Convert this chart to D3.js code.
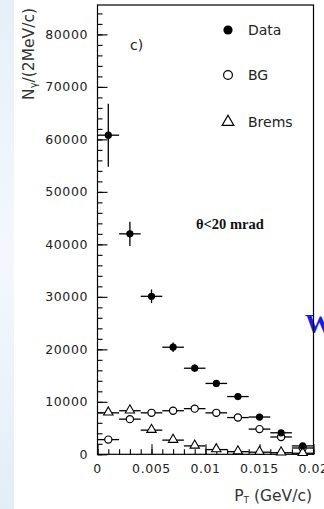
<!DOCTYPE html>
<html>
<head>
<meta charset="utf-8">
<script src="https://cdn.jsdelivr.net/npm/d3@7"></script>
<style>
  html, body { margin: 0; padding: 0; background: #ffffff; }
  svg { display: block; }
</style>
</head>
<body>
<svg id="chart" width="324" height="509"></svg>
<script>
// ---- data ----
const ptBins = [0.001, 0.003, 0.005, 0.007, 0.009, 0.011, 0.013, 0.015, 0.017, 0.019];
const dataValues = [60800, 42000, 30100, 20400, 16400, 13500, 11000, 7100, 4100, 1600];
const dataErrors = [6000, 2300, 1300, 900, 700, 500, 400, 400, 400, 300];
const bgValues = [2800, 6700, 7900, 8300, 8700, 7900, 7000, 4800, 3300, 1200];
const bremsValues = [7900, 8300, 4600, 2700, 1600, 900, 500, 400, 300, 200];
const halfBinWidth = 0.001;
const yTickValues = [0, 10000, 20000, 30000, 40000, 50000, 60000, 70000, 80000];
const xTickValues = [0, 0.005, 0.01, 0.015, 0.02];
const xTickLabels = ["0", "0.005", "0.01", "0.015", "0.02"];
const legendLabels = ["Data", "BG", "Brems"];

(function () {
// ---- layout ----
const svg = d3.select("#chart");
const pLeft = 97.5, pRight = 313.5, pTop = 5, pBottom = 454.3;

const x = d3.scaleLinear().domain([0, 0.02]).range([pLeft, pRight]);
const y = d3.scaleLinear().domain([0, 85600]).range([pBottom, pTop]);

// slide background strip at left
const defs = svg.append("defs");
const grad = defs.append("linearGradient").attr("id", "strip").attr("x1", 0).attr("y1", 0).attr("x2", 0).attr("y2", 1);
grad.append("stop").attr("offset", "0%").attr("stop-color", "#e6eff9");
grad.append("stop").attr("offset", "50%").attr("stop-color", "#f4f8fd");
grad.append("stop").attr("offset", "100%").attr("stop-color", "#e3edf8");
svg.append("rect").attr("x", 0).attr("y", 0).attr("width", 14).attr("height", 509).attr("fill", "url(#strip)");

// partial slide letter at right edge
svg.append("text").attr("x", 305).attr("y", 333)
  .attr("font-family", "Liberation Serif, Times New Roman, serif")
  .attr("font-weight", "bold").attr("font-size", 28).attr("fill", "#1a1ae6")
  .text("W");

const g = svg.append("g");

// frame
g.append("rect").attr("x", pLeft).attr("y", pTop).attr("width", pRight - pLeft).attr("height", pBottom - pTop)
  .attr("fill", "none").attr("stroke", "#000").attr("stroke-width", 1.2);

// y axis ticks (inside)
const yAx = g.append("g").attr("transform", `translate(${pLeft},0)`)
  .call(d3.axisRight(y).tickValues(yTickValues).tickSize(10).tickFormat(""));
yAx.select(".domain").remove();
yAx.selectAll("line").attr("stroke", "#000").attr("stroke-width", 1.1);
const yMinor = d3.range(0, 85600, 2000);
const yAxMinor = g.append("g").attr("transform", `translate(${pLeft},0)`)
  .call(d3.axisRight(y).tickValues(yMinor).tickSize(5).tickFormat(""));
yAxMinor.select(".domain").remove();
yAxMinor.selectAll("line").attr("stroke", "#000").attr("stroke-width", 1.1);

// y tick labels
g.selectAll(".ylab").data(yTickValues).enter().append("text")
  .attr("x", 88).attr("y", d => y(d)).attr("dy", "0.36em")
  .attr("text-anchor", "end")
  .attr("font-family", "DejaVu Sans, sans-serif").attr("font-size", 12.5)
  .attr("letter-spacing", 0.6).attr("fill", "#222")
  .text(d => d);

// x axis ticks (inside, pointing up)
const xAx = g.append("g").attr("transform", `translate(0,${pBottom})`)
  .call(d3.axisTop(x).tickValues(xTickValues).tickSize(10).tickFormat(""));
xAx.select(".domain").remove();
xAx.selectAll("line").attr("stroke", "#000").attr("stroke-width", 1.1);
const xMinor = d3.range(0, 0.0201, 0.001);
const xAxMinor = g.append("g").attr("transform", `translate(0,${pBottom})`)
  .call(d3.axisTop(x).tickValues(xMinor).tickSize(5).tickFormat(""));
xAxMinor.select(".domain").remove();
xAxMinor.selectAll("line").attr("stroke", "#000").attr("stroke-width", 1.1);

g.selectAll(".xlab").data(xTickValues).enter().append("text")
  .attr("x", d => x(d)).attr("y", 473)
  .attr("text-anchor", "middle")
  .attr("font-family", "DejaVu Sans, sans-serif").attr("font-size", 12.5)
  .attr("letter-spacing", 0.6).attr("fill", "#222")
  .text((d, i) => xTickLabels[i]);

// axis titles
const yt = svg.append("text")
  .attr("transform", "translate(34,8) rotate(-90)")
  .attr("text-anchor", "end")
  .attr("font-family", "DejaVu Sans, sans-serif").attr("font-size", 15.5).attr("fill", "#333");
yt.append("tspan").text("N");
yt.append("tspan").attr("font-size", 10).attr("dy", 3).text("γ");
yt.append("tspan").attr("dy", -3).text("/(2MeV/c)");

const xt = svg.append("text")
  .attr("x", 312).attr("y", 501)
  .attr("text-anchor", "end")
  .attr("font-family", "DejaVu Sans, sans-serif").attr("font-size", 15.5).attr("fill", "#333");
xt.append("tspan").text("P");
xt.append("tspan").attr("font-size", 9).attr("dy", 2).text("T");
xt.append("tspan").attr("dy", -2).text(" (GeV/c)");

// panel labels
svg.append("text").attr("x", 130).attr("y", 50)
  .attr("font-family", "DejaVu Sans, sans-serif").attr("font-size", 14).attr("fill", "#222").text("c)");
svg.append("text").attr("x", 196).attr("y", 229)
  .attr("font-family", "Liberation Serif, Times New Roman, serif").attr("font-weight", "bold")
  .attr("font-size", 14.5).attr("fill", "#111").text("θ<20 mrad");

// series drawing helpers
const sw = 1.3;
function hbars(vals) {
  g.append("g").selectAll("line").data(ptBins).enter().append("line")
    .attr("x1", d => x(d - halfBinWidth)).attr("x2", d => x(d + halfBinWidth))
    .attr("y1", (d, i) => y(vals[i])).attr("y2", (d, i) => y(vals[i]))
    .attr("stroke", "#000").attr("stroke-width", sw);
}

// BG (open circles)
hbars(bgValues);
g.append("g").selectAll("circle").data(ptBins).enter().append("circle")
  .attr("cx", d => x(d)).attr("cy", (d, i) => y(bgValues[i])).attr("r", 3.6)
  .attr("fill", "#fff").attr("stroke", "#000").attr("stroke-width", 1.2);

// Brems (open triangles)
hbars(bremsValues);
const tri = d3.symbol().type(d3.symbolTriangle).size(38);
g.append("g").selectAll("path").data(ptBins).enter().append("path")
  .attr("d", tri)
  .attr("transform", (d, i) => `translate(${x(d)},${y(bremsValues[i]) - 0.5})`)
  .attr("fill", "#fff").attr("stroke", "#000").attr("stroke-width", 1.1);

// Data (filled circles with error bars)
hbars(dataValues);
g.append("g").selectAll("line").data(ptBins).enter().append("line")
  .attr("x1", d => x(d)).attr("x2", d => x(d))
  .attr("y1", (d, i) => y(dataValues[i] + dataErrors[i]))
  .attr("y2", (d, i) => y(dataValues[i] - dataErrors[i]))
  .attr("stroke", "#000").attr("stroke-width", sw);
g.append("g").selectAll("circle").data(ptBins).enter().append("circle")
  .attr("cx", d => x(d)).attr("cy", (d, i) => y(dataValues[i])).attr("r", 3.6)
  .attr("fill", "#000");

// legend
const legY = [30, 75, 122];
const leg = svg.append("g");
leg.append("circle").attr("cx", 228).attr("cy", legY[0]).attr("r", 4.6).attr("fill", "#000");
leg.append("circle").attr("cx", 228).attr("cy", legY[1]).attr("r", 4.4).attr("fill", "#fff")
  .attr("stroke", "#000").attr("stroke-width", 1.2);
leg.append("path").attr("d", d3.symbol().type(d3.symbolTriangle).size(60))
  .attr("transform", `translate(228,${legY[2]})`)
  .attr("fill", "#fff").attr("stroke", "#000").attr("stroke-width", 1.2);
leg.selectAll("text").data(legendLabels).enter().append("text")
  .attr("x", 248).attr("y", (d, i) => legY[i]).attr("dy", "0.36em")
  .attr("font-family", "DejaVu Sans, sans-serif").attr("font-size", 14).attr("fill", "#222")
  .text(d => d);
})();
</script>
</body>
</html>
